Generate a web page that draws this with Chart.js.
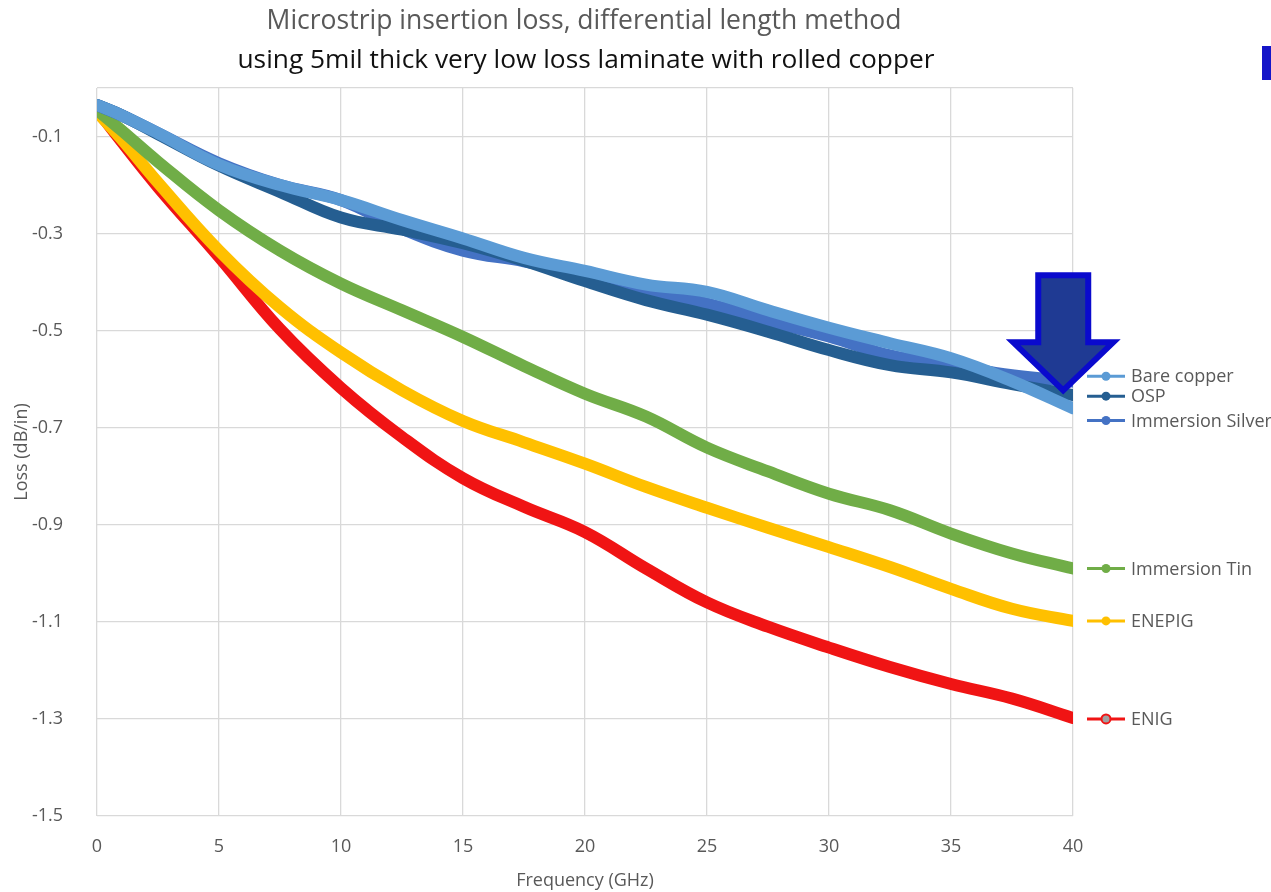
<!DOCTYPE html>
<html>
<head>
<meta charset="utf-8">
<script src="https://cdn.jsdelivr.net/npm/chart.js@4"></script>
<style>
  html, body { margin: 0; padding: 0; background: #fff; }
</style>
</head>
<body>
<canvas id="lossChart" width="1271" height="892"></canvas>
<script>
const freq = [0, 1, 2.5, 5, 7.5, 10, 12.5, 15, 17.5, 20, 22.5, 25, 27.5, 30, 32.5, 35, 37.5, 40];

const bareCopper = [-0.035, -0.056, -0.093, -0.158, -0.200, -0.231, -0.272, -0.310, -0.350, -0.377, -0.405, -0.420, -0.458, -0.494, -0.526, -0.557, -0.604, -0.660];
const osp = [-0.035, -0.056, -0.095, -0.160, -0.214, -0.267, -0.292, -0.320, -0.356, -0.398, -0.437, -0.467, -0.502, -0.540, -0.571, -0.586, -0.610, -0.633];
const immSilver = [-0.035, -0.056, -0.093, -0.155, -0.200, -0.231, -0.290, -0.335, -0.357, -0.385, -0.422, -0.444, -0.480, -0.512, -0.551, -0.571, -0.592, -0.605];
const immTin = [-0.045, -0.087, -0.152, -0.252, -0.335, -0.403, -0.458, -0.513, -0.573, -0.630, -0.677, -0.741, -0.790, -0.836, -0.870, -0.918, -0.959, -0.990];
const enepig = [-0.049, -0.105, -0.195, -0.335, -0.452, -0.545, -0.623, -0.686, -0.730, -0.774, -0.822, -0.865, -0.906, -0.946, -0.987, -1.032, -1.073, -1.098];
const enig = [-0.045, -0.110, -0.204, -0.348, -0.497, -0.618, -0.719, -0.804, -0.863, -0.915, -0.990, -1.060, -1.110, -1.153, -1.193, -1.228, -1.258, -1.298];

const seriesNames = ["Bare copper", "OSP", "Immersion Silver", "Immersion Tin", "ENEPIG", "ENIG"];
const seriesColors = ["#5B9BD5", "#255E91", "#4472C4", "#70AD47", "#FFC000", "#F01414"];
// where each legend entry sits on the loss axis
const legendAt = [-0.594, -0.635, -0.685, -0.99, -1.098, -1.3];

const yTicks = [-1.5, -1.3, -1.1, -0.9, -0.7, -0.5, -0.3, -0.1, 0];
const titleLines = ["Microstrip insertion loss, differential length method", "using 5mil thick very low loss laminate with rolled copper"];

const FONT = "'Open Sans', sans-serif";
const GRAY = "#595959";

const toPts = (vals) => vals.map((v, i) => ({ x: freq[i], y: v }));
const allVals = [bareCopper, osp, immSilver, immTin, enepig, enig];

const datasets = allVals.map((vals, i) => ({
  label: seriesNames[i],
  data: toPts(vals),
  borderColor: seriesColors[i],
  backgroundColor: seriesColors[i],
  borderWidth: 12,
  borderCapStyle: "round",
  borderJoinStyle: "round",
  pointRadius: 0,
  tension: 0.4,
}));

// titles, side legend, arrow
const extras = {
  id: "extras",
  afterDraw(chart) {
    const ctx = chart.ctx;
    const xs = chart.scales.x, ys = chart.scales.y;
    ctx.save();

    // titles
    ctx.textAlign = "center";
    ctx.textBaseline = "middle";
    ctx.fillStyle = GRAY;
    ctx.font = "26.5px " + FONT;
    ctx.fillText(titleLines[0], 584, 21);
    ctx.fillStyle = "#111";
    ctx.font = "26.3px " + FONT;
    ctx.fillText(titleLines[1], 586, 61);

    // legend entries at line ends
    ctx.textAlign = "left";
    ctx.font = "18px " + FONT;
    seriesNames.forEach((name, i) => {
      const y = ys.getPixelForValue(legendAt[i]);
      const x0 = xs.right + 14;
      ctx.strokeStyle = seriesColors[i];
      ctx.lineWidth = 3;
      ctx.beginPath();
      ctx.moveTo(x0, y);
      ctx.lineTo(x0 + 38, y);
      ctx.stroke();
      ctx.beginPath();
      ctx.arc(x0 + 19, y, 4.5, 0, Math.PI * 2);
      ctx.fillStyle = i === 5 ? "#A0A0A0" : seriesColors[i];
      ctx.fill();
      if (i === 5) { ctx.lineWidth = 2; ctx.stroke(); }
      ctx.fillStyle = GRAY;
      ctx.fillText(name, x0 + 44, y + 1);
    });

    // big down arrow pointing at the blue line ends
    const tipX = xs.getPixelForValue(39.6);
    const tipY = ys.getPixelForValue(-0.623);
    ctx.beginPath();
    ctx.moveTo(tipX - 25, tipY - 115);
    ctx.lineTo(tipX + 25, tipY - 115);
    ctx.lineTo(tipX + 25, tipY - 48);
    ctx.lineTo(tipX + 50, tipY - 48);
    ctx.lineTo(tipX, tipY);
    ctx.lineTo(tipX - 50, tipY - 48);
    ctx.lineTo(tipX - 25, tipY - 48);
    ctx.closePath();
    ctx.fillStyle = "#1F3A93";
    ctx.fill();
    ctx.strokeStyle = "#0A0ACD";
    ctx.lineWidth = 6;
    ctx.lineJoin = "miter";
    ctx.stroke();

    // blue bar at top right edge
    ctx.fillStyle = "#1515C8";
    ctx.fillRect(1262, 46, 9, 34);

    ctx.restore();
  },
};

new Chart("lossChart", {
  type: "line",
  data: { datasets: datasets },
  options: {
    responsive: false,
    animation: false,
    devicePixelRatio: 1,
    layout: { padding: { left: 0, right: 198, top: 88, bottom: 0 } },
    plugins: {
      legend: { display: false },
      title: { display: false },
      tooltip: { enabled: false },
    },
    scales: {
      x: {
        type: "linear",
        min: 0,
        max: 40,
        ticks: { stepSize: 5, color: GRAY, font: { family: FONT, size: 18 }, padding: 20 },
        grid: { color: "#D9D9D9", lineWidth: 1.3, drawTicks: false },
        border: { display: false },
        title: { display: true, text: "Frequency (GHz)", color: GRAY, font: { family: FONT, size: 18 }, padding: { top: 4, bottom: 0 } },
        afterFit: (s) => { s.height = 76; },
      },
      y: {
        type: "linear",
        min: -1.5,
        max: 0,
        afterBuildTicks: (s) => { s.ticks = yTicks.map((v) => ({ value: v })); },
        ticks: {
          color: GRAY,
          font: { family: FONT, size: 18 },
          padding: 34,
          callback: (v) => (v === 0 ? "" : v.toFixed(1)),
        },
        grid: { color: "#D9D9D9", lineWidth: 1.3, drawTicks: false },
        border: { display: false },
        title: { display: true, text: "Loss (dB/in)", color: GRAY, font: { family: FONT, size: 18 }, padding: { top: 11, bottom: 4 } },
        afterFit: (s) => { s.width = 97; },
      },
    },
  },
  plugins: [extras],
});
</script>
</body>
</html>
